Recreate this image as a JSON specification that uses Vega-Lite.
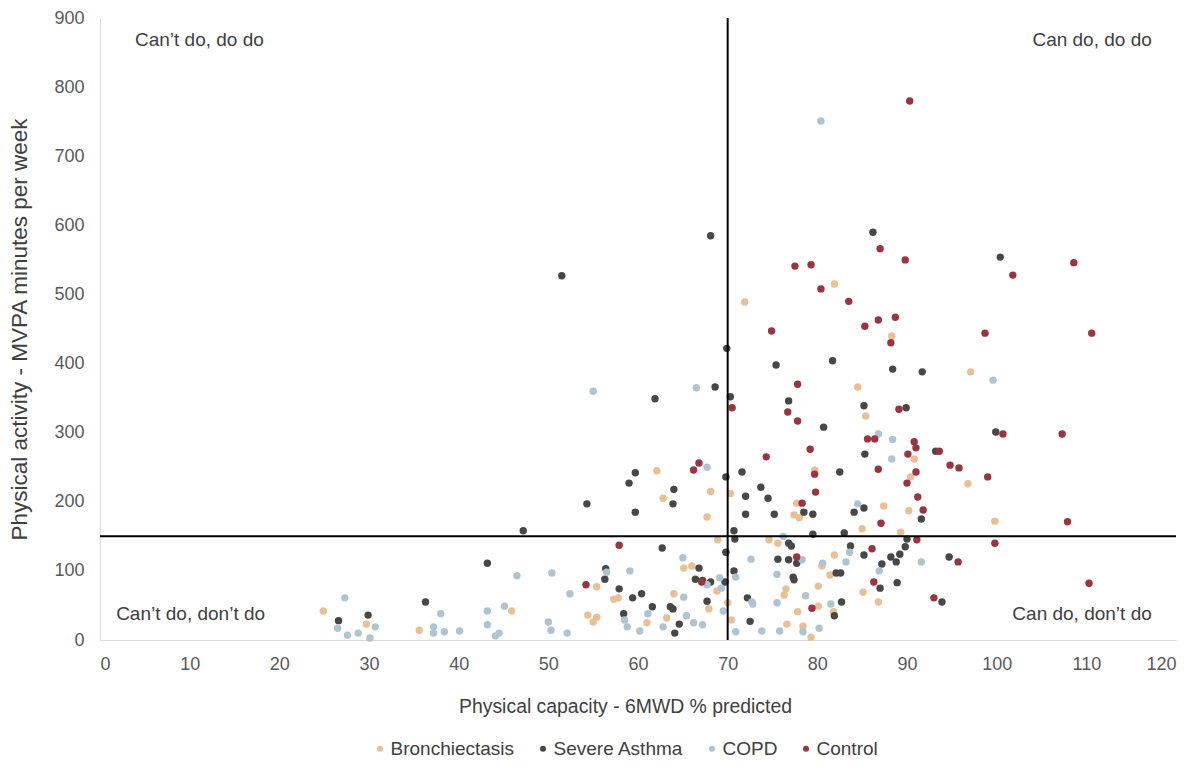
{
  "$schema": "https://vega.github.io/schema/vega-lite/v6.json",
  "width": 1076,
  "height": 622,
  "autosize": {"type": "none"},
  "padding": {"left": 100, "top": 18, "right": 26, "bottom": 127},
  "config": {
    "view": {"stroke": null},
    "font": "Liberation Sans",
    "axis": {"grid": false, "ticks": false, "domainColor": "#d9d9d9", "domainWidth": 1, "labelColor": "#595959", "labelFontSize": 18, "titleColor": "#404040", "titleFontWeight": "normal"}
  },
  "layer": [
    {
      "data": {"values": [
        {"g":"Bronchiectasis","x":24.9,"y":42},{"g":"Bronchiectasis","x":29.7,"y":23},{"g":"Bronchiectasis","x":35.6,"y":14},{"g":"Bronchiectasis","x":45.9,"y":42},{"g":"Bronchiectasis","x":62.8,"y":205},{"g":"Bronchiectasis","x":68.1,"y":215},{"g":"Bronchiectasis","x":70.3,"y":212},{"g":"Bronchiectasis","x":67.7,"y":178},{"g":"Bronchiectasis","x":68.9,"y":145},{"g":"Bronchiectasis","x":65.1,"y":104},{"g":"Bronchiectasis","x":66.0,"y":107},{"g":"Bronchiectasis","x":55.4,"y":77},{"g":"Bronchiectasis","x":57.3,"y":59},{"g":"Bronchiectasis","x":57.8,"y":61},{"g":"Bronchiectasis","x":64.0,"y":67},{"g":"Bronchiectasis","x":70.0,"y":54},{"g":"Bronchiectasis","x":67.9,"y":45},{"g":"Bronchiectasis","x":54.4,"y":36},{"g":"Bronchiectasis","x":55.4,"y":33},{"g":"Bronchiectasis","x":55.0,"y":26},{"g":"Bronchiectasis","x":61.0,"y":25},{"g":"Bronchiectasis","x":63.2,"y":32},{"g":"Bronchiectasis","x":70.4,"y":29},{"g":"Bronchiectasis","x":77.7,"y":198},{"g":"Bronchiectasis","x":77.4,"y":181},{"g":"Bronchiectasis","x":78.0,"y":177},{"g":"Bronchiectasis","x":87.4,"y":194},{"g":"Bronchiectasis","x":85.0,"y":161},{"g":"Bronchiectasis","x":74.6,"y":145},{"g":"Bronchiectasis","x":75.6,"y":140},{"g":"Bronchiectasis","x":80.5,"y":107},{"g":"Bronchiectasis","x":81.9,"y":123},{"g":"Bronchiectasis","x":81.4,"y":94},{"g":"Bronchiectasis","x":80.1,"y":78},{"g":"Bronchiectasis","x":76.5,"y":74},{"g":"Bronchiectasis","x":76.3,"y":65},{"g":"Bronchiectasis","x":85.1,"y":69},{"g":"Bronchiectasis","x":86.8,"y":55},{"g":"Bronchiectasis","x":80.1,"y":49},{"g":"Bronchiectasis","x":77.8,"y":41},{"g":"Bronchiectasis","x":81.8,"y":41},{"g":"Bronchiectasis","x":68.8,"y":71},{"g":"Bronchiectasis","x":76.6,"y":23},{"g":"Bronchiectasis","x":78.4,"y":20},{"g":"Bronchiectasis","x":79.3,"y":4},{"g":"Bronchiectasis","x":96.8,"y":226},{"g":"Bronchiectasis","x":90.2,"y":187},{"g":"Bronchiectasis","x":99.8,"y":172},{"g":"Bronchiectasis","x":89.3,"y":156},{"g":"Bronchiectasis","x":71.9,"y":489},{"g":"Bronchiectasis","x":62.1,"y":245},{"g":"Bronchiectasis","x":81.9,"y":515},{"g":"Bronchiectasis","x":88.3,"y":440},{"g":"Bronchiectasis","x":84.5,"y":366},{"g":"Bronchiectasis","x":85.4,"y":324},{"g":"Bronchiectasis","x":90.8,"y":262},{"g":"Bronchiectasis","x":79.7,"y":246},{"g":"Bronchiectasis","x":90.4,"y":236},{"g":"Bronchiectasis","x":97.1,"y":388},
        {"g":"Severe Asthma","x":47.2,"y":158},{"g":"Severe Asthma","x":43.2,"y":111},{"g":"Severe Asthma","x":36.3,"y":55},{"g":"Severe Asthma","x":26.6,"y":28},{"g":"Severe Asthma","x":29.9,"y":36},{"g":"Severe Asthma","x":59.0,"y":227},{"g":"Severe Asthma","x":64.0,"y":218},{"g":"Severe Asthma","x":63.9,"y":197},{"g":"Severe Asthma","x":54.3,"y":197},{"g":"Severe Asthma","x":59.7,"y":185},{"g":"Severe Asthma","x":70.7,"y":158},{"g":"Severe Asthma","x":70.8,"y":146},{"g":"Severe Asthma","x":62.7,"y":133},{"g":"Severe Asthma","x":69.8,"y":127},{"g":"Severe Asthma","x":66.8,"y":104},{"g":"Severe Asthma","x":70.7,"y":100},{"g":"Severe Asthma","x":56.4,"y":103},{"g":"Severe Asthma","x":56.3,"y":88},{"g":"Severe Asthma","x":66.4,"y":88},{"g":"Severe Asthma","x":67.2,"y":86},{"g":"Severe Asthma","x":68.1,"y":84},{"g":"Severe Asthma","x":69.7,"y":84},{"g":"Severe Asthma","x":57.9,"y":74},{"g":"Severe Asthma","x":59.4,"y":61},{"g":"Severe Asthma","x":60.4,"y":67},{"g":"Severe Asthma","x":67.7,"y":56},{"g":"Severe Asthma","x":61.6,"y":48},{"g":"Severe Asthma","x":63.6,"y":48},{"g":"Severe Asthma","x":63.9,"y":45},{"g":"Severe Asthma","x":58.4,"y":38},{"g":"Severe Asthma","x":64.6,"y":23},{"g":"Severe Asthma","x":64.1,"y":10},{"g":"Severe Asthma","x":72.0,"y":208},{"g":"Severe Asthma","x":73.7,"y":221},{"g":"Severe Asthma","x":74.5,"y":205},{"g":"Severe Asthma","x":72.0,"y":182},{"g":"Severe Asthma","x":75.2,"y":182},{"g":"Severe Asthma","x":78.5,"y":185},{"g":"Severe Asthma","x":79.5,"y":182},{"g":"Severe Asthma","x":84.1,"y":185},{"g":"Severe Asthma","x":85.2,"y":191},{"g":"Severe Asthma","x":79.5,"y":153},{"g":"Severe Asthma","x":83.0,"y":155},{"g":"Severe Asthma","x":76.8,"y":140},{"g":"Severe Asthma","x":77.1,"y":136},{"g":"Severe Asthma","x":75.6,"y":117},{"g":"Severe Asthma","x":76.8,"y":116},{"g":"Severe Asthma","x":77.7,"y":111},{"g":"Severe Asthma","x":83.7,"y":136},{"g":"Severe Asthma","x":85.2,"y":123},{"g":"Severe Asthma","x":87.2,"y":110},{"g":"Severe Asthma","x":88.2,"y":120},{"g":"Severe Asthma","x":88.8,"y":113},{"g":"Severe Asthma","x":77.3,"y":91},{"g":"Severe Asthma","x":77.4,"y":87},{"g":"Severe Asthma","x":82.1,"y":97},{"g":"Severe Asthma","x":82.6,"y":97},{"g":"Severe Asthma","x":87.0,"y":75},{"g":"Severe Asthma","x":88.9,"y":83},{"g":"Severe Asthma","x":72.2,"y":61},{"g":"Severe Asthma","x":82.7,"y":55},{"g":"Severe Asthma","x":81.9,"y":35},{"g":"Severe Asthma","x":72.5,"y":27},{"g":"Severe Asthma","x":91.6,"y":175},{"g":"Severe Asthma","x":90.0,"y":146},{"g":"Severe Asthma","x":89.8,"y":135},{"g":"Severe Asthma","x":89.2,"y":124},{"g":"Severe Asthma","x":94.7,"y":120},{"g":"Severe Asthma","x":93.9,"y":55},{"g":"Severe Asthma","x":68.1,"y":585},{"g":"Severe Asthma","x":51.5,"y":527},{"g":"Severe Asthma","x":69.9,"y":422},{"g":"Severe Asthma","x":68.6,"y":366},{"g":"Severe Asthma","x":61.9,"y":349},{"g":"Severe Asthma","x":70.3,"y":352},{"g":"Severe Asthma","x":59.7,"y":242},{"g":"Severe Asthma","x":69.8,"y":236},{"g":"Severe Asthma","x":71.6,"y":243},{"g":"Severe Asthma","x":86.2,"y":590},{"g":"Severe Asthma","x":75.4,"y":398},{"g":"Severe Asthma","x":81.7,"y":404},{"g":"Severe Asthma","x":88.4,"y":392},{"g":"Severe Asthma","x":91.7,"y":388},{"g":"Severe Asthma","x":76.8,"y":346},{"g":"Severe Asthma","x":85.2,"y":339},{"g":"Severe Asthma","x":89.9,"y":336},{"g":"Severe Asthma","x":80.7,"y":308},{"g":"Severe Asthma","x":85.3,"y":269},{"g":"Severe Asthma","x":93.2,"y":273},{"g":"Severe Asthma","x":82.5,"y":243},{"g":"Severe Asthma","x":100.4,"y":554},{"g":"Severe Asthma","x":99.9,"y":301},
        {"g":"COPD","x":46.5,"y":93},{"g":"COPD","x":50.4,"y":97},{"g":"COPD","x":27.3,"y":61},{"g":"COPD","x":38.0,"y":38},{"g":"COPD","x":43.2,"y":42},{"g":"COPD","x":45.1,"y":49},{"g":"COPD","x":26.5,"y":17},{"g":"COPD","x":30.7,"y":19},{"g":"COPD","x":27.6,"y":7},{"g":"COPD","x":28.8,"y":10},{"g":"COPD","x":30.1,"y":3},{"g":"COPD","x":37.2,"y":19},{"g":"COPD","x":37.2,"y":10},{"g":"COPD","x":38.4,"y":12},{"g":"COPD","x":40.1,"y":13},{"g":"COPD","x":43.2,"y":22},{"g":"COPD","x":44.1,"y":6},{"g":"COPD","x":44.5,"y":10},{"g":"COPD","x":50.0,"y":26},{"g":"COPD","x":50.3,"y":14},{"g":"COPD","x":65.0,"y":119},{"g":"COPD","x":70.9,"y":91},{"g":"COPD","x":56.5,"y":98},{"g":"COPD","x":59.1,"y":100},{"g":"COPD","x":67.7,"y":80},{"g":"COPD","x":69.1,"y":90},{"g":"COPD","x":69.3,"y":75},{"g":"COPD","x":52.4,"y":67},{"g":"COPD","x":65.1,"y":62},{"g":"COPD","x":69.5,"y":42},{"g":"COPD","x":58.5,"y":29},{"g":"COPD","x":58.8,"y":19},{"g":"COPD","x":61.1,"y":38},{"g":"COPD","x":65.4,"y":35},{"g":"COPD","x":66.2,"y":25},{"g":"COPD","x":67.2,"y":22},{"g":"COPD","x":52.1,"y":10},{"g":"COPD","x":60.2,"y":13},{"g":"COPD","x":62.8,"y":19},{"g":"COPD","x":70.9,"y":12},{"g":"COPD","x":84.5,"y":197},{"g":"COPD","x":76.2,"y":150},{"g":"COPD","x":72.6,"y":117},{"g":"COPD","x":78.3,"y":116},{"g":"COPD","x":80.6,"y":111},{"g":"COPD","x":83.2,"y":113},{"g":"COPD","x":83.6,"y":127},{"g":"COPD","x":86.9,"y":100},{"g":"COPD","x":75.5,"y":95},{"g":"COPD","x":78.7,"y":64},{"g":"COPD","x":75.5,"y":54},{"g":"COPD","x":72.7,"y":55},{"g":"COPD","x":72.8,"y":52},{"g":"COPD","x":81.5,"y":52},{"g":"COPD","x":73.8,"y":13},{"g":"COPD","x":75.8,"y":13},{"g":"COPD","x":78.4,"y":12},{"g":"COPD","x":80.2,"y":17},{"g":"COPD","x":91.6,"y":113},{"g":"COPD","x":55.0,"y":360},{"g":"COPD","x":66.5,"y":365},{"g":"COPD","x":67.7,"y":250},{"g":"COPD","x":80.4,"y":751},{"g":"COPD","x":86.8,"y":298},{"g":"COPD","x":88.4,"y":290},{"g":"COPD","x":88.3,"y":262},{"g":"COPD","x":99.6,"y":376},
        {"g":"Control","x":57.9,"y":137},{"g":"Control","x":67.1,"y":84},{"g":"Control","x":54.2,"y":80},{"g":"Control","x":79.8,"y":214},{"g":"Control","x":78.3,"y":198},{"g":"Control","x":87.1,"y":169},{"g":"Control","x":86.1,"y":132},{"g":"Control","x":77.7,"y":120},{"g":"Control","x":86.3,"y":84},{"g":"Control","x":79.4,"y":46},{"g":"Control","x":90.0,"y":227},{"g":"Control","x":91.2,"y":207},{"g":"Control","x":91.8,"y":188},{"g":"Control","x":107.9,"y":171},{"g":"Control","x":91.1,"y":145},{"g":"Control","x":99.8,"y":140},{"g":"Control","x":95.7,"y":113},{"g":"Control","x":110.3,"y":82},{"g":"Control","x":93.0,"y":61},{"g":"Control","x":70.5,"y":336},{"g":"Control","x":66.8,"y":256},{"g":"Control","x":66.2,"y":246},{"g":"Control","x":90.3,"y":780},{"g":"Control","x":87.0,"y":566},{"g":"Control","x":89.8,"y":550},{"g":"Control","x":77.5,"y":541},{"g":"Control","x":79.3,"y":543},{"g":"Control","x":80.4,"y":508},{"g":"Control","x":83.5,"y":490},{"g":"Control","x":74.9,"y":447},{"g":"Control","x":85.3,"y":454},{"g":"Control","x":86.8,"y":463},{"g":"Control","x":88.7,"y":467},{"g":"Control","x":88.2,"y":430},{"g":"Control","x":77.8,"y":370},{"g":"Control","x":76.7,"y":330},{"g":"Control","x":77.8,"y":317},{"g":"Control","x":89.1,"y":334},{"g":"Control","x":79.2,"y":276},{"g":"Control","x":74.3,"y":265},{"g":"Control","x":85.6,"y":291},{"g":"Control","x":86.4,"y":291},{"g":"Control","x":90.8,"y":287},{"g":"Control","x":91.0,"y":278},{"g":"Control","x":90.1,"y":269},{"g":"Control","x":93.6,"y":273},{"g":"Control","x":86.8,"y":247},{"g":"Control","x":79.7,"y":240},{"g":"Control","x":91.0,"y":243},{"g":"Control","x":101.8,"y":528},{"g":"Control","x":108.6,"y":546},{"g":"Control","x":98.7,"y":444},{"g":"Control","x":110.6,"y":444},{"g":"Control","x":100.7,"y":298},{"g":"Control","x":107.3,"y":298},{"g":"Control","x":94.8,"y":253},{"g":"Control","x":95.8,"y":249},{"g":"Control","x":99.0,"y":236}
      ]},
      "mark": {"type": "circle", "size": 55, "opacity": 1},
      "encoding": {
        "x": {"field": "x", "type": "quantitative", "scale": {"domain": [0, 120], "nice": false}, "axis": {"values": [0,10,20,30,40,50,60,70,80,90,100,110,120], "labelPadding": 15, "title": "Physical capacity - 6MWD % predicted", "titleFontSize": 19.4, "titlePadding": 24, "titleX": 525}},
        "y": {"field": "y", "type": "quantitative", "scale": {"domain": [0, 900], "nice": false}, "axis": {"values": [0,100,200,300,400,500,600,700,800,900], "labelPadding": 16, "title": "Physical activity - MVPA minutes per week", "titleFontSize": 22.5, "titlePadding": 22}},
        "color": {"field": "g", "type": "nominal", "scale": {"domain": ["Bronchiectasis", "Severe Asthma", "COPD", "Control"], "range": ["#E8C094", "#474747", "#AFC4CF", "#9B3441"]},
          "legend": {"title": null, "orient": "none", "direction": "horizontal", "legendX": 270.5, "legendY": 721, "labelFontSize": 19, "labelColor": "#404040", "symbolType": "circle", "symbolSize": 36, "symbolStrokeWidth": 0, "labelOffset": 1, "columnPadding": 19}}
      }
    },
    {
      "data": {"values": [{}]},
      "mark": {"type": "rule", "color": "#000000", "strokeWidth": 2},
      "encoding": {"x": {"datum": 70}, "y": {"datum": 0}, "y2": {"datum": 900}}
    },
    {
      "data": {"values": [{}]},
      "mark": {"type": "rule", "color": "#000000", "strokeWidth": 2},
      "encoding": {"y": {"datum": 150}, "x": {"datum": 0}, "x2": {"datum": 120}}
    },
    {
      "data": {"values": [{"label": "Can’t do, do do", "x": 3.9, "y": 868}, {"label": "Can’t do, don’t do", "x": 1.8, "y": 38}]},
      "mark": {"type": "text", "align": "left", "baseline": "middle", "fontSize": 19, "color": "#404040"},
      "encoding": {"x": {"field": "x", "type": "quantitative"}, "y": {"field": "y", "type": "quantitative"}, "text": {"field": "label"}}
    },
    {
      "data": {"values": [{"label": "Can do, do do", "x": 117.3, "y": 868}, {"label": "Can do, don’t do", "x": 117.3, "y": 38}]},
      "mark": {"type": "text", "align": "right", "baseline": "middle", "fontSize": 19, "color": "#404040"},
      "encoding": {"x": {"field": "x", "type": "quantitative"}, "y": {"field": "y", "type": "quantitative"}, "text": {"field": "label"}}
    }
  ]
}
